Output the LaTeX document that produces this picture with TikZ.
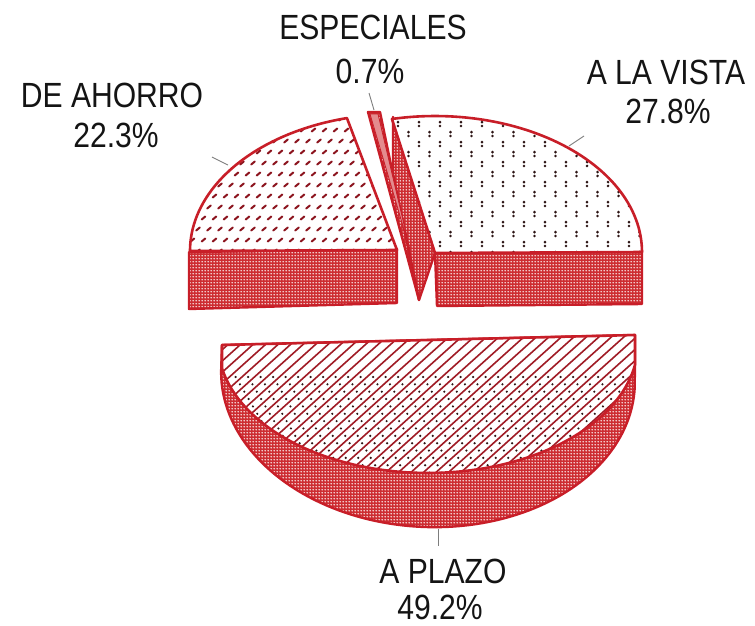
\documentclass[tikz,border=0pt]{standalone}
\usepackage{fontspec}
\setmainfont{Liberation Sans}
\newfontfamily\lblfont[FakeStretch=0.86]{Liberation Sans}
\usetikzlibrary{patterns}

\pgfdeclarepatternformonly{sidedots}{\pgfqpoint{0pt}{0pt}}{\pgfqpoint{3pt}{3pt}}{\pgfqpoint{3pt}{3pt}}{%
  \pgfpathcircle{\pgfqpoint{1.5pt}{1.5pt}}{1.0pt}\pgfusepath{fill}}

\definecolor{edgered}{RGB}{200,30,40}
\definecolor{sidebase}{RGB}{205,45,50}
\definecolor{markred}{RGB}{140,20,30}
\definecolor{linered}{RGB}{160,28,38}
\definecolor{dotdark}{RGB}{45,20,20}
\definecolor{leadergray}{RGB}{125,125,125}
\definecolor{txt}{RGB}{20,20,20}

\tikzset{
  sideface/.style={preaction={fill=sidebase},
                   preaction={pattern=sidedots, pattern color=white},
                   draw=edgered, line width=2.4pt, line join=round},
  topedge/.style={draw=edgered, line width=2.6pt, line join=round},
  leaderline/.style={draw=leadergray, line width=0.9pt},
  lbl/.style={font=\lblfont\fontsize{35}{40}\selectfont, text=txt, inner sep=0pt},
}

\newcommand\ahorroTop{(397,250) -- plot[domain=180:104,samples=60] ({397+207*cos(\x)},{251-137*sin(\x)}) -- cycle}
\newcommand\vistaTop{(435,253) -- plot[domain=102:0,samples=60] ({435+207*cos(\x)},{252-136*sin(\x)}) -- cycle}
\newcommand\plazoTop{(222,345) -- (635,335) -- plot[domain=9.7:168.8,samples=80] ({428+210*cos(\x)},{343+130*sin(\x)}) -- cycle}
\newcommand\plazoAll{(222,345) -- (635,335) -- plot[domain=0:180,samples=90] ({428+207*cos(\x)*cos(2.8)-150*sin(\x)*sin(2.8)},{377+207*cos(\x)*sin(2.8)+150*sin(\x)*cos(2.8)}) -- cycle}

\begin{document}
\begin{tikzpicture}[x=1pt,y=-1pt]
\useasboundingbox (0,0) rectangle (755,625);

% ---------- side faces ----------
\path[sideface] (189,252) -- (397,249) -- (397,303) -- (189,309) -- cycle;
\path[sideface] (435,253) -- (642,251) -- (642,304) -- (437,306) -- cycle;
\path[sideface] (393,117) -- (435,253) -- (419,300) -- (393,175) -- cycle;
\path[sideface] (368,112) -- (380,112) -- (419,300) -- cycle;
\path[fill=sidebase!55!white, draw=edgered, line width=0.8pt] (370,114) -- (378,114) -- (410,250) -- cycle;
\path[sideface] \plazoAll;

% ---------- DE AHORRO top ----------
\fill[white] \ahorroTop;
\begin{scope}
  \clip \ahorroTop;
  \foreach \r in {0,...,13}{
    \foreach \c in {0,...,19}{
      \pgfmathsetmacro\xx{187+\c*11+mod(\r,2)*5.5}
      \pgfmathsetmacro\yy{119+\r*11}
      \draw[markred, line width=2pt, line cap=round] (\xx-1.8,\yy+1.5) -- (\xx+1.8,\yy-1.5);
    }
  }
\end{scope}
\path[topedge] \ahorroTop;

% ---------- A LA VISTA top ----------
\fill[white] \vistaTop;
\begin{scope}
  \clip \vistaTop;
  \foreach \r in {0,...,14}{
    \foreach \c in {0,...,11}{
      \pgfmathsetmacro\xx{398+\c*21+mod(\r,2)*10.5}
      \pgfmathsetmacro\yy{124+\r*10}
      \fill[dotdark] (\xx,\yy-1.9) circle[radius=1.4pt];
      \fill[dotdark] (\xx,\yy+1.9) circle[radius=1.4pt];
    }
  }
\end{scope}
\path[topedge] \vistaTop;

% ---------- A PLAZO top ----------
\fill[white] \plazoTop;
\begin{scope}
  \clip \plazoTop;
  \foreach \k in {0,...,52}{
    \pgfmathsetmacro\xa{40+\k*12.5}
    \draw[linered, line width=1.6pt] (\xa,480) -- (\xa+166.6,330);
    \foreach \t in {0,...,14}{
      \fill[dotdark] (\xa+6.25+\t*8.17,480-\t*7.36) circle[radius=1.2pt];
    }
  }
\end{scope}
\path[topedge] \plazoTop;

% ---------- leader lines ----------
\coordinate (lEspA) at (369,93);  \coordinate (lEspB) at (374,110);
\coordinate (lAhoA) at (212,157); \coordinate (lAhoB) at (228,165);
\coordinate (lVisA) at (584,136); \coordinate (lVisB) at (569,146);
\coordinate (lPlaA) at (438,529); \coordinate (lPlaB) at (438,546);
\draw[leaderline] (lEspA) -- (lEspB);
\draw[leaderline] (lAhoA) -- (lAhoB);
\draw[leaderline] (lVisA) -- (lVisB);
\draw[leaderline] (lPlaA) -- (lPlaB);

% ---------- labels ----------
\node[lbl] (tEsp)  at (373,27)  {ESPECIALES};
\node[lbl] (pEsp)  at (370,71)  {0.7\%};
\node[lbl] (tAho)  at (112,95)  {DE AHORRO};
\node[lbl] (pAho)  at (116,135) {22.3\%};
\node[lbl] (tVis)  at (666,72)  {A LA VISTA};
\node[lbl] (pVis)  at (668,111) {27.8\%};
\node[lbl] (tPla)  at (443,571) {A PLAZO};
\node[lbl] (pPla)  at (440,607) {49.2\%};
\end{tikzpicture}
\end{document}
